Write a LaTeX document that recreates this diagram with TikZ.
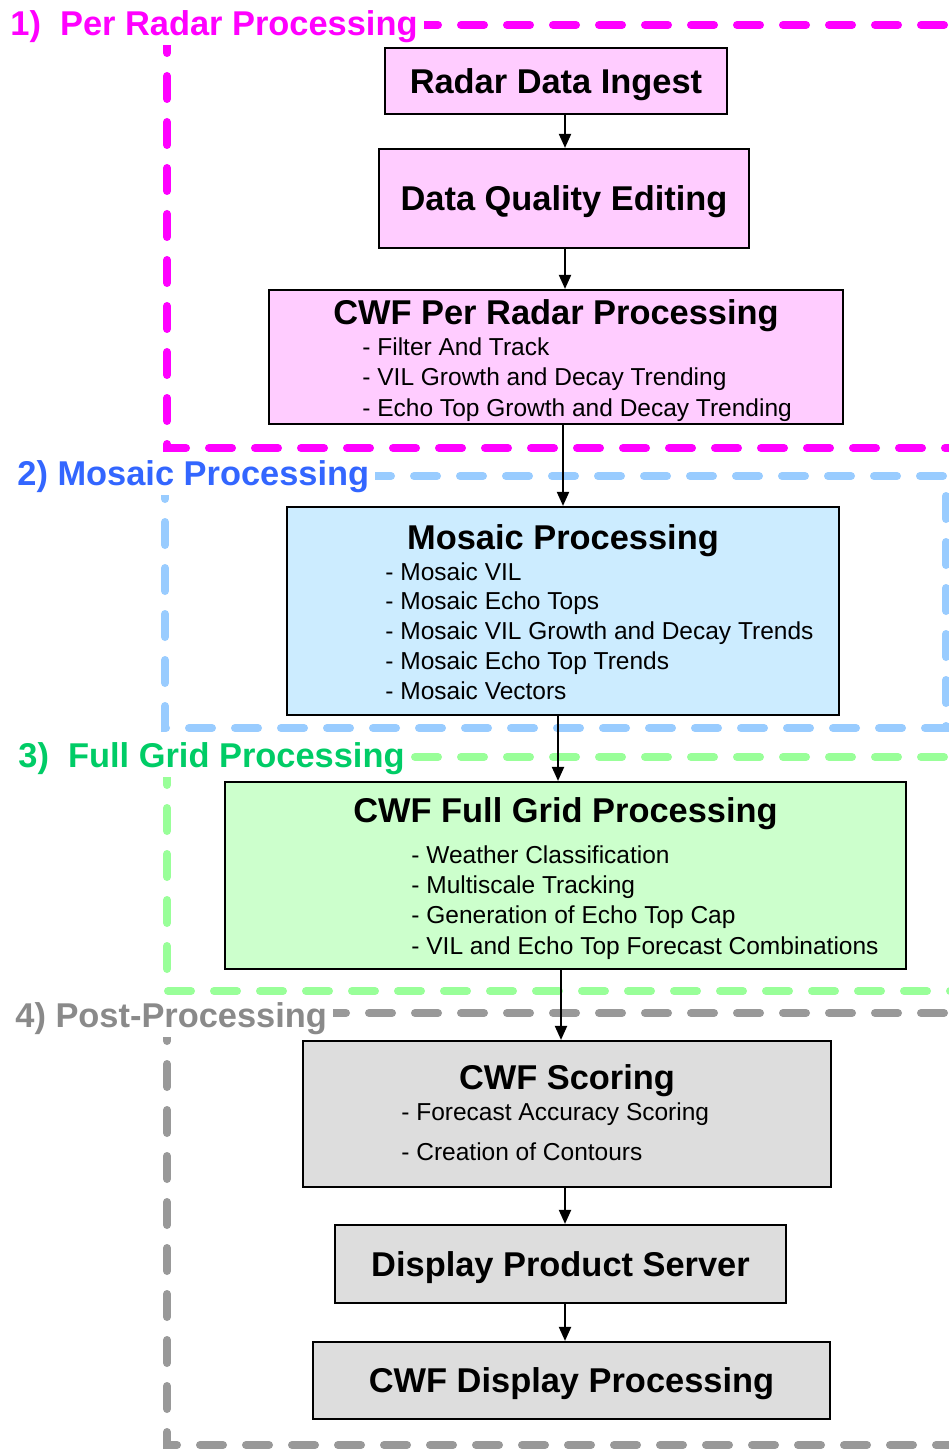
\documentclass[tikz,border=0pt]{standalone}
\usepackage{fontspec}
\setmainfont{Liberation Sans}
\usetikzlibrary{arrows.meta}
\definecolor{radarpink}{HTML}{FFCCFF}
\definecolor{mosaicblue}{HTML}{CCECFF}
\definecolor{gridgreen}{HTML}{CCFFCC}
\definecolor{postgray}{HTML}{DDDDDD}
\definecolor{zonemag}{HTML}{FF00FF}
\definecolor{zoneblue}{HTML}{99CCFF}
\definecolor{zonegreen}{HTML}{99FF99}
\definecolor{zonegray}{HTML}{999999}
\definecolor{labblue}{HTML}{3366FF}
\definecolor{labgreen}{HTML}{00CC66}
\definecolor{labgray}{HTML}{8A8A8A}

\begin{document}
\begin{tikzpicture}[
  x=0.5pt,
  y=-0.5pt,
  zone/.style={line width=4pt,line cap=round,dash pattern=on 11.5pt off 11.5pt},
  box/.style={draw=black,line width=1.1pt,inner sep=0pt,text depth=0pt,font=\fontsize{17.2}{20}\selectfont\bfseries},
  flow/.style={-{Triangle[length=7pt,width=6pt]},line width=1pt},
  head/.style={font=\fontsize{17.2}{20}\selectfont\bfseries,inner sep=0pt,text depth=0pt},
  item/.style={font=\fontsize{12.25}{15}\selectfont,anchor=base west,inner sep=0pt},
  zonelab/.style={font=\fontsize{17.2}{20}\selectfont\bfseries,fill=white,anchor=west,inner xsep=3pt,inner ysep=1pt}
]
\useasboundingbox (0,0) rectangle (948,1449);

\draw[zone,zonemag] (990,25) -- (167,25) -- (167,448) -- (990,448);
\draw[zone,zoneblue] (165,476) rectangle (946,728);
\draw[zone,zonegreen] (990,757) -- (167,757) -- (167,991) -- (990,991);
\draw[zone,zonegray] (990,1013) -- (167,1013) -- (167,1445) -- (990,1445);

\node[zonelab,text=zonemag] (lab1) at (4,27) {1)~~Per Radar Processing};
\node[zonelab,text=labblue] (lab2) at (11,477) {2) Mosaic Processing};
\node[zonelab,text=labgreen] (lab3) at (12,759) {3)~~Full Grid Processing};
\node[zonelab,text=labgray] (lab4) at (9,1019) {4) Post-Processing};

\node[box,fill=radarpink,minimum width=171pt,minimum height=33pt] (ingest) at (556,81) {Radar Data Ingest};
\node[box,fill=radarpink,minimum width=185pt,minimum height=49.5pt] (dqe) at (564,198.5) {Data Quality Editing};
\node[box,fill=radarpink,minimum width=287pt,minimum height=67pt] (perradar) at (556,357) {};
\node[head] (perradar-t) at (556,312) {CWF Per Radar Processing};
\foreach \t [count=\i] in {Filter And Track,VIL Growth and Decay Trending,Echo Top Growth and Decay Trending}
  \node[item] (perradar-\i) at (362,{356+30*(\i-1)}) {- \t};

\node[box,fill=mosaicblue,minimum width=276pt,minimum height=104pt] (mosaic) at (563,611) {};
\node[head] (mosaic-t) at (563,537) {Mosaic Processing};
\foreach \t [count=\i] in {Mosaic VIL,Mosaic Echo Tops,Mosaic VIL Growth and Decay Trends,Mosaic Echo Top Trends,Mosaic Vectors}
  \node[item] (mosaic-\i) at (385,{580+29.75*(\i-1)}) {- \t};

\node[box,fill=gridgreen,minimum width=340.5pt,minimum height=93.5pt] (fullgrid) at (565.5,875.5) {};
\node[head] (fullgrid-t) at (565.5,810) {CWF Full Grid Processing};
\foreach \t [count=\i] in {Weather Classification,Multiscale Tracking,Generation of Echo Top Cap,VIL and Echo Top Forecast Combinations}
  \node[item] (fullgrid-\i) at (411,{863+30.33*(\i-1)}) {- \t};

\node[box,fill=postgray,minimum width=264pt,minimum height=73pt] (scoring) at (567,1114) {};
\node[head] (scoring-t) at (567,1077) {CWF Scoring};
\foreach \t [count=\i] in {Forecast Accuracy Scoring,Creation of Contours}
  \node[item] (scoring-\i) at (401,{1120+40*(\i-1)}) {- \t};

\node[box,fill=postgray,minimum width=225.5pt,minimum height=39pt] (dps) at (560.5,1264) {Display Product Server};
\node[box,fill=postgray,minimum width=258.5pt,minimum height=38.5pt] (display) at (571.5,1380.5) {CWF Display Processing};

\draw[flow] ([xshift=4.5pt]ingest.south) -- ([xshift=0.5pt]dqe.north);
\draw[flow] ([xshift=0.5pt]dqe.south) -- ([xshift=4.5pt]perradar.north);
\draw[flow] ([xshift=3.5pt]perradar.south) -- (mosaic.north);
\draw[flow] ([xshift=-2.5pt]mosaic.south) -- ([xshift=-3.75pt]fullgrid.north);
\draw[flow] ([xshift=-2.25pt]fullgrid.south) -- ([xshift=-3pt]scoring.north);
\draw[flow] ([xshift=-1pt]scoring.south) -- ([xshift=2.25pt]dps.north);
\draw[flow] ([xshift=2.25pt]dps.south) -- ([xshift=-3.25pt]display.north);
\end{tikzpicture}
\end{document}
